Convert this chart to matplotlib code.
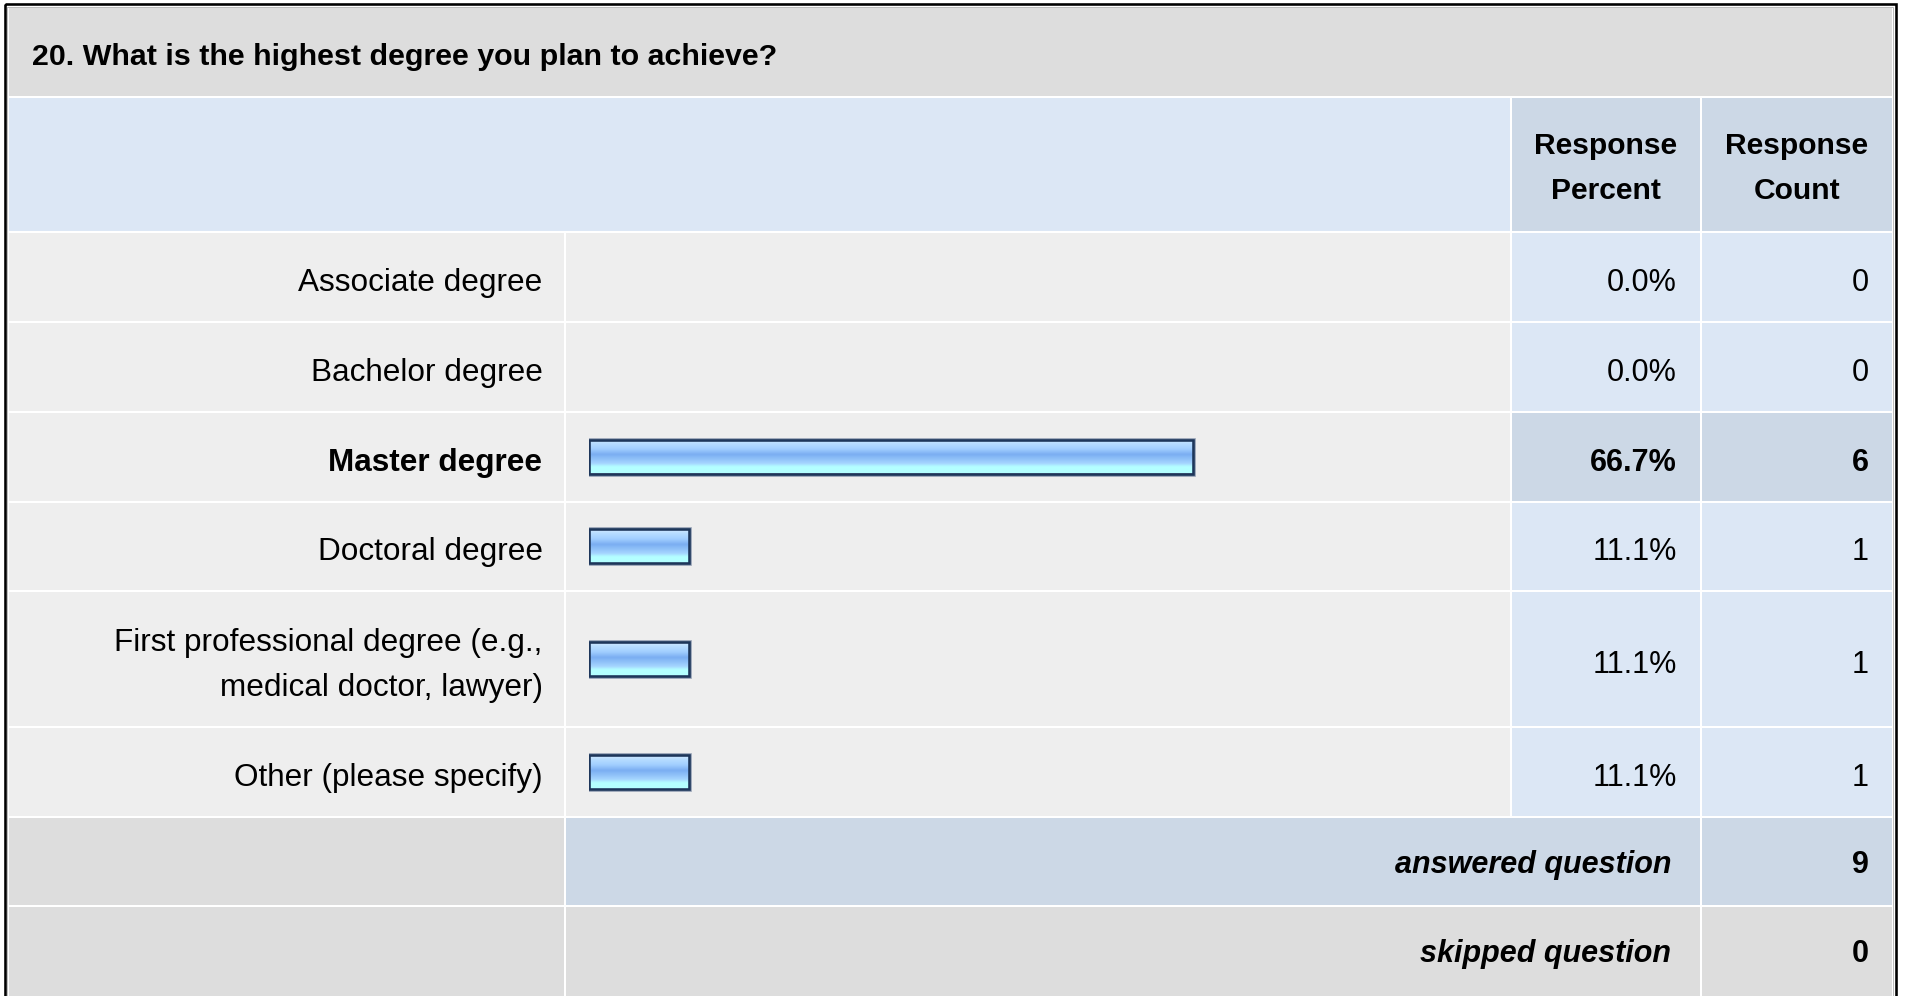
import numpy as np
import matplotlib
matplotlib.use("Agg")
import matplotlib.pyplot as plt
from matplotlib.patches import Rectangle
from matplotlib.colors import LinearSegmentedColormap

# ---- survey data -------------------------------------------------------
question = "20. What is the highest degree you plan to achieve?"
categories = [
    "Associate degree",
    "Bachelor degree",
    "Master degree",
    "Doctoral degree",
    "First professional degree (e.g.,\nmedical doctor, lawyer)",
    "Other (please specify)",
]
percents = [0.0, 0.0, 66.7, 11.1, 11.1, 11.1]
counts = [0, 0, 6, 1, 1, 1]
answered_count = 9
skipped_count = 0
col_headers = ["Response\nPercent", "Response\nCount"]

# ---- canvas (pixel coordinates) ---------------------------------------
W, H = 1907, 996
DPI = 100
fig = plt.figure(figsize=(W / DPI, H / DPI), dpi=DPI)
fig.patch.set_facecolor("white")

bg = fig.add_axes([0, 0, 1, 1])
bg.set_xlim(0, W)
bg.set_ylim(H, 0)
bg.axis("off")

FONT = "Liberation Sans"
PX = 72.0 / DPI  # points per pixel

# palette
GRAY_DARK = "#DDDDDD"
GRAY_LIGHT = "#EEEEEE"
BLUE_LIGHT = "#DCE7F5"
BLUE_MID = "#CCD8E6"

# column edges
X0, XE = 9, 1892
LAB = (X0, 563.5)
BAR = (565.5, 1510)
PCT = (1512, 1700)
CNT = (1702, XE)

# row separator lines
row_lines = [231.5, 321.5, 411.5, 501.5, 591, 727, 816.5, 906, 1003]


def cell(x, y, color):
    bg.add_patch(Rectangle((x[0], y[0]), x[1] - x[0], y[1] - y[0],
                           facecolor=color, edgecolor="none", zorder=1))


def txt(x, y, s, size, ha="right", weight="normal", style="normal"):
    bg.text(x, y, s, ha=ha, va="baseline", fontsize=size, family=FONT,
            fontweight=weight, fontstyle=style, color="black", zorder=5)


# frame
bg.add_patch(Rectangle((5, 4.2), 1890.5, 1000, fill=False, ec="black",
                       lw=2.6 * PX, zorder=6))
bg.add_patch(Rectangle((7.3, 6.5), 1885.5, 1000, fill=False, ec="#BDBDBD",
                       lw=1.0 * PX, zorder=6))

# title band
cell((X0, XE), (8, 96), GRAY_DARK)
txt(31.5, 64.5, question, 21.85, ha="left", weight="bold")

# header band
hy = (98, row_lines[0] - 1)
cell((X0, BAR[1]), hy, BLUE_LIGHT)
cell(PCT, hy, BLUE_MID)
cell(CNT, hy, BLUE_MID)
for xr, head in zip([PCT, CNT], col_headers):
    cx = (xr[0] + xr[1]) / 2
    for k, line in enumerate(head.split("\n")):
        txt(cx, 154 + 45.3 * k, line, 21.6, ha="center", weight="bold")

# answer rows
top_value = max(percents)
row_centers = []
for i, (cat, p, c) in enumerate(zip(categories, percents, counts)):
    y = (row_lines[i] + 1, row_lines[i + 1] - 1)
    yc = (row_lines[i] + row_lines[i + 1]) / 2
    row_centers.append(yc)
    hi = p == top_value
    cell(LAB, y, GRAY_LIGHT)
    cell(BAR, y, GRAY_LIGHT)
    cell(PCT, y, BLUE_MID if hi else BLUE_LIGHT)
    cell(CNT, y, BLUE_MID if hi else BLUE_LIGHT)
    w = "bold" if hi else "normal"
    lines = cat.split("\n")
    base = yc + 14 - 22.5 * (len(lines) - 1)
    for k, line in enumerate(lines):
        txt(542.5, base + 45 * k, line, 22.7, weight=w)
    txt(1677, yc + 14, f"{p:.1f}%", 22.0, weight=w)
    txt(1868.5, yc + 14, f"{c}", 22.0, weight=w)

# summary rows
n = len(categories)
ya = (row_lines[n] + 1, row_lines[n + 1] - 1)
cell(LAB, ya, GRAY_DARK)
cell((BAR[0], PCT[1]), ya, BLUE_MID)
cell(CNT, ya, BLUE_MID)
txt(1671.5, 873, "answered question", 22.0, weight="bold", style="italic")
txt(1868.5, 873, f"{answered_count}", 22.0, weight="bold")

ys = (row_lines[n + 1] + 1, row_lines[n + 2])
cell(LAB, ys, GRAY_DARK)
cell((BAR[0], PCT[1]), ys, GRAY_DARK)
cell(CNT, ys, GRAY_DARK)
txt(1671.5, 962, "skipped question", 22.0, weight="bold", style="italic")
txt(1868.5, 962, f"{skipped_count}", 22.0, weight="bold")

# ---- bars: percent scale on their own axes ------------------------------
bar_left, bar_span = 588.8, 906.0
ax = fig.add_axes([bar_left / W, 0, bar_span / W, 1])
ax.patch.set_alpha(0)
ax.axis("off")

gloss = LinearSegmentedColormap.from_list("gloss", [
    (0.00, "#D2EAFF"),
    (0.12, "#B7DDFF"),
    (0.28, "#A2CFFF"),
    (0.45, "#7BAEF2"),
    (0.58, "#8EC0F8"),
    (0.72, "#A6D6FF"),
    (0.82, "#B4FFFF"),
    (1.00, "#B4FFFF"),
])
grad = np.linspace(0, 1, 64).reshape(-1, 1)

bar_h = 34
idx = [i for i, p in enumerate(percents) if p > 0]
yc_bars = [row_centers[i] for i in idx]
vals = [percents[i] for i in idx]

# soft outer rim, then the dark outline
ax.barh(yc_bars, vals, height=bar_h, left=0, facecolor="none",
        edgecolor="#8E9BB0", linewidth=4.6 * PX, zorder=2)
bars = ax.barh(yc_bars, vals, height=bar_h, left=0, facecolor="none",
               edgecolor="#1D365A", linewidth=2.6 * PX, zorder=4)
for patch, yc, v in zip(bars.patches, yc_bars, vals):
    im = ax.imshow(grad, extent=[0, v, yc + bar_h / 2, yc - bar_h / 2],
                   aspect="auto", cmap=gloss, origin="upper",
                   interpolation="bilinear", zorder=3)
    im.set_clip_path(patch)

ax.set_xlim(0, 100)
ax.set_ylim(H, 0)

fig.savefig("out.png", dpi=DPI, facecolor=fig.get_facecolor())
